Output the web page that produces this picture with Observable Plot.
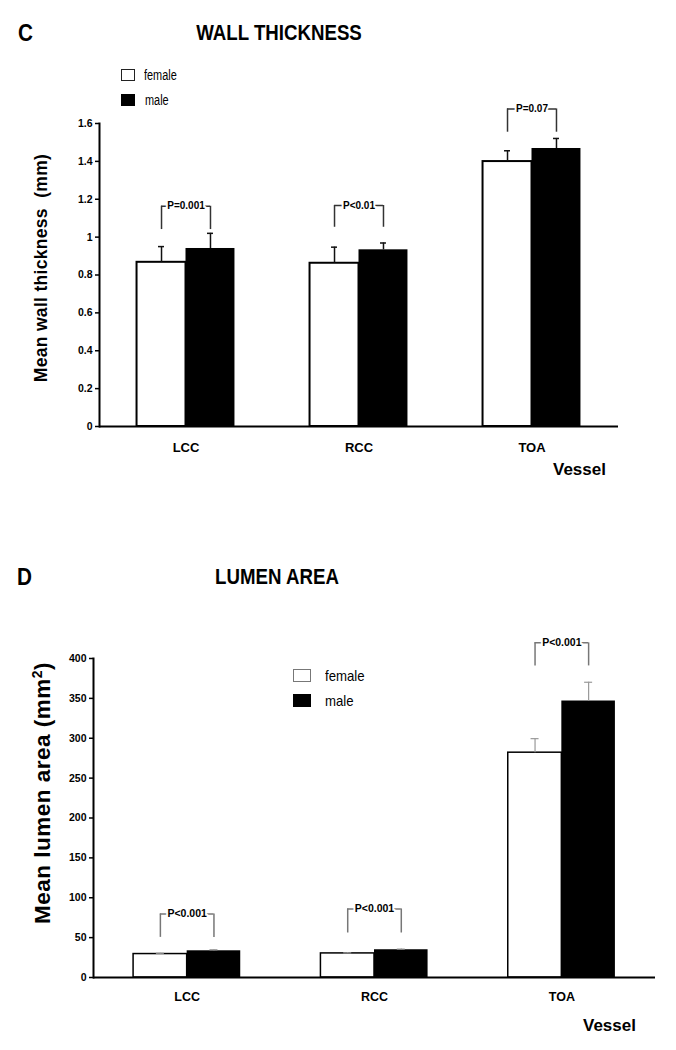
<!DOCTYPE html>
<html>
<head>
<meta charset="utf-8">
<script src="https://cdn.jsdelivr.net/npm/d3@7"></script>
<script src="https://cdn.jsdelivr.net/npm/@observablehq/plot@0.6"></script>
<style>
  html, body { margin: 0; padding: 0; background: #fff; }
  #page { position: relative; width: 676px; height: 1050px; font-family: "Liberation Sans", Arial, sans-serif; color: #000; background: #fff; }
  .abs { position: absolute; white-space: nowrap; line-height: 1; z-index: 2; }
  .title { font-weight: bold; font-size: 22.5px; transform: translateX(-50%) scaleX(0.83); }
  .panel { font-weight: bold; font-size: 23px; transform-origin: left center; transform: scaleX(0.9); }
  .ylab { font-weight: bold; transform: translate(-50%, -50%) rotate(-90deg); }
  .xlab { font-weight: bold; font-size: 17px; }
  .legC { font-size: 14px; transform-origin: left center; transform: scaleX(0.78); }
  .legD { font-size: 15px; transform-origin: left center; transform: scaleX(0.88); }
  .sw { position: absolute; box-sizing: border-box; z-index: 2; }
  .plot { position: absolute; left: 0; z-index: 1; }
</style>
</head>
<body>
<div id="page">
  <div id="chartC" class="plot" style="top:0px;"></div>
  <div id="chartD" class="plot" style="top:540px;"></div>

  <div class="abs panel" style="left:18px; top:22px;">C</div>
  <div class="abs title" style="left:279px; top:22px;">WALL THICKNESS</div>
  <div class="sw" style="left:121px; top:69px; width:14px; height:12px; border:1.5px solid #222; background:#fff;"></div>
  <div class="abs legC" style="left:144px; top:68px;">female</div>
  <div class="sw" style="left:121px; top:94px; width:14px; height:12px; background:#000;"></div>
  <div class="abs legC" style="left:145px; top:93px;">male</div>
  <div class="abs ylab" style="left:42px; top:268px; font-size:17.5px; letter-spacing:0.3px;">Mean wall thickness&nbsp; (mm)</div>
  <div class="abs xlab" style="left:553px; top:461px;">Vessel</div>

  <div class="abs panel" style="left:17px; top:566px;">D</div>
  <div class="abs title" style="left:277px; top:566px;">LUMEN AREA</div>
  <div class="sw" style="left:293px; top:669px; width:18px; height:13px; border:1.5px solid #777; background:#fff;"></div>
  <div class="abs legD" style="left:325px; top:668px;">female</div>
  <div class="sw" style="left:293px; top:694px; width:18px; height:13px; background:#000;"></div>
  <div class="abs legD" style="left:325px; top:693px;">male</div>
  <div class="abs ylab" style="left:42px; top:793px; font-size:22.5px; letter-spacing:0.5px;">Mean lumen area (mm<sup style="font-size:14px; vertical-align: 8px;">2</sup>)</div>
  <div class="abs xlab" style="left:583px; top:1017px;">Vessel</div>
</div>
<script>
// ---- Data ----
const vessels = ["LCC", "RCC", "TOA"];

// Panel C: wall thickness (mm)
const wallFemale = [0.867, 0.862, 1.399];
const wallFemaleSE = [0.083, 0.085, 0.057];
const wallMale = [0.940, 0.933, 1.468];
const wallMaleSE = [0.080, 0.036, 0.053];
const wallP = ["P=0.001", "P<0.01", "P=0.07"];
const wallBracketTop = [1.163, 1.167, 1.677];
const wallBracketLeg = [1.040, 1.052, 1.554];
const wallTicks = [0, 0.2, 0.4, 0.6, 0.8, 1, 1.2, 1.4, 1.6];

// Panel D: lumen area (mm²)
const lumenFemale = [29.4, 30.2, 281.9];
const lumenFemaleSE = [1.0, 0.7, 17.6];
const lumenMale = [33.5, 34.8, 346.7];
const lumenMaleSE = [1.3, 0.8, 23.5];
const lumenP = ["P<0.001", "P<0.001", "P<0.001"];
const lumenBracketTop = [79.6, 86, 419.6];
const lumenBracketLeg = [50.3, 55.8, 390.7];
const lumenTicks = [0, 50, 100, 150, 200, 250, 300, 350, 400];

function chart(c) {
  const n = vessels.length;
  const step = (c.width - c.ml - c.mr) / (n - c.pi + 2 * c.po);
  const bw = step * (1 - c.pi);
  const h = bw / 2, q = bw / 4;
  const rows = vessels.map((v, i) => ({
    vessel: v,
    female: c.female[i], fTop: c.female[i] + c.femaleSE[i],
    male: c.male[i], mTop: c.male[i] + c.maleSE[i],
    p: c.pLabels[i], top: c.bTop[i], leg: c.bLeg[i]
  }));
  return Plot.plot({
    width: c.width, height: c.height,
    marginLeft: c.ml, marginRight: c.mr, marginTop: c.mt, marginBottom: c.mb,
    style: {fontFamily: "'Liberation Sans', Arial, sans-serif", background: "transparent", overflow: "visible"},
    x: {type: "band", domain: vessels, paddingInner: c.pi, paddingOuter: c.po, round: false},
    y: {domain: [0, c.yMax]},
    marks: [
      Plot.barY(rows, {x: "vessel", y: "female", fill: "white", stroke: "black", strokeWidth: c.barStroke, insetRight: h}),
      Plot.barY(rows, {x: "vessel", y: "male", fill: "black", insetLeft: h}),
      Plot.ruleX(rows, {x: "vessel", y1: "female", y2: "fTop", dx: -q, stroke: c.errColor, strokeWidth: c.errWidth}),
      Plot.ruleX(rows, {x: "vessel", y1: "male", y2: "mTop", dx: q, stroke: c.errColor, strokeWidth: c.errWidth}),
      Plot.tickY(rows, {x: "vessel", y: "fTop", insetLeft: q - c.cap, insetRight: 3 * q - c.cap, stroke: c.errColor, strokeWidth: c.errWidth}),
      Plot.tickY(rows, {x: "vessel", y: "mTop", insetLeft: 3 * q - c.cap, insetRight: q - c.cap, stroke: c.errColor, strokeWidth: c.errWidth}),
      Plot.ruleX(rows, {x: "vessel", y1: "leg", y2: "top", dx: -q, stroke: c.brColor, strokeWidth: 1.5}),
      Plot.ruleX(rows, {x: "vessel", y1: "leg", y2: "top", dx: q, stroke: c.brColor, strokeWidth: 1.5}),
      Plot.tickY(rows, {x: "vessel", y: "top", insetLeft: q, insetRight: q, stroke: c.brColor, strokeWidth: 1.5}),
      Plot.text(rows, {x: "vessel", y: "top", text: "p", fontSize: c.pFont, fontWeight: "bold", fill: "black", stroke: "white", strokeWidth: 4, paintOrder: "stroke"}),
      Plot.ruleY([0], {strokeWidth: 2}),
      Plot.frame({anchor: "left", strokeWidth: 2}),
      Plot.axisY({ticks: c.ticks, tickFormat: d => String(d), tickSize: 4, tickPadding: 3, fontSize: 10.5, fontWeight: "bold", label: null, strokeWidth: 1.5}),
      Plot.axisX({tickSize: 0, tickPadding: c.xPad, fontSize: c.xFont, fontWeight: "bold", label: null})
    ]
  });
}

document.getElementById("chartC").append(chart({
  female: wallFemale, femaleSE: wallFemaleSE, male: wallMale, maleSE: wallMaleSE,
  pLabels: wallP, bTop: wallBracketTop, bLeg: wallBracketLeg, ticks: wallTicks, yMax: 1.6,
  width: 676, height: 466, ml: 99, mr: 58, mt: 123, mb: 40, pi: 0.434, po: 0.217,
  barStroke: 2, errColor: "#111", errWidth: 1.5, brColor: "#333", cap: 3, pFont: 10, xFont: 13, xPad: 16
}));

document.getElementById("chartD").append(chart({
  female: lumenFemale, femaleSE: lumenFemaleSE, male: lumenMale, maleSE: lumenMaleSE,
  pLabels: lumenP, bTop: lumenBracketTop, bLeg: lumenBracketLeg, ticks: lumenTicks, yMax: 400,
  width: 676, height: 477, ml: 93, mr: 21, mt: 118, mb: 40, pi: 0.428, po: 0.214,
  barStroke: 1.5, errColor: "#999", errWidth: 1.2, brColor: "#777", cap: 4, pFont: 10.5, xFont: 12.5, xPad: 15
}));
</script>
</body>
</html>
